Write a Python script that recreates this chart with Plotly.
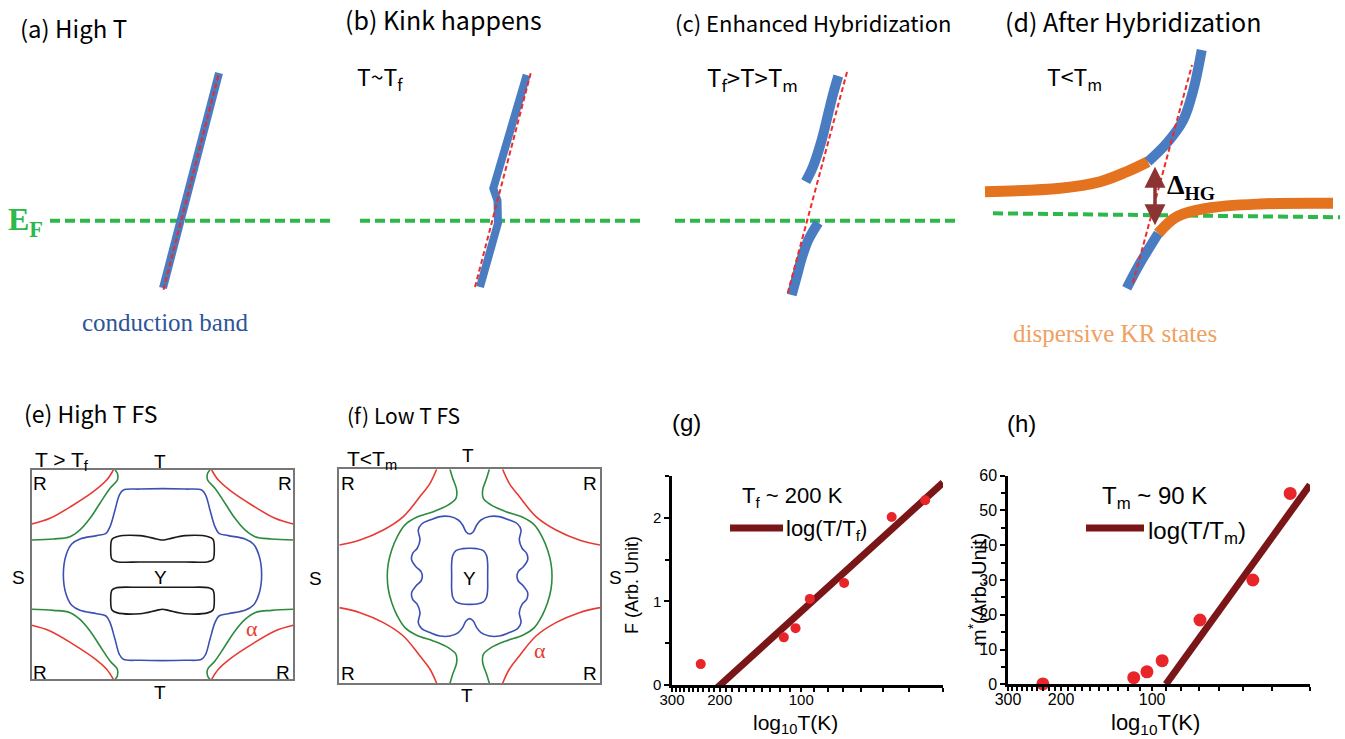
import plotly.graph_objects as go

W, H = 1345, 739

# ---------------- (a)-(d): schematic band dispersions, k (momentum) vs E (energy, E_F = 0)
a_band_k = [-0.175, 0.385]
a_band_E = [-0.673, 1.477]
a_bare_k = [-0.17, 0.38]
a_bare_E = [-0.69, 1.46]
a_ef_k = [-1.305, 1.525]
a_ef_E = [0.0, 0.0]

b_band_k = [-0.12, 0.06, 0.055, 0.013, 0.347]
b_band_E = [-0.663, -0.023, 0.20, 0.324, 1.457]
b_bare_k = [-0.17, 0.39]
b_bare_E = [-0.663, 1.487]
b_ef_k = [-1.32, 1.51]
b_ef_E = [0.0, 0.0]

c_upper_k = [-0.013, 0.06, 0.147, 0.213, 0.263, 0.313]
c_upper_E = [0.39, 0.54, 0.807, 1.074, 1.274, 1.447]
c_lower_k = [-0.153, -0.103, -0.053, 0.013, 0.113]
c_lower_E = [-0.743, -0.56, -0.376, -0.193, -0.02]
c_bare_k = [-0.193, 0.4]
c_bare_E = [-0.723, 1.487]
c_ef_k = [-1.32, 1.53]
c_ef_E = [0.0, 0.0]

d_upper_kr_k = [-1.66, -0.91, -0.51, -0.243, -0.03]
d_upper_kr_E = [0.233, 0.267, 0.333, 0.433, 0.533]
d_upper_c_k = [-0.03, 0.157, 0.323, 0.423, 0.507]
d_upper_c_E = [0.533, 0.717, 0.95, 1.25, 1.65]
d_lower_c_k = [-0.243, -0.11, 0.073]
d_lower_c_E = [-0.733, -0.483, -0.183]
d_lower_kr_k = [0.073, 0.257, 0.557, 1.09, 1.82]
d_lower_kr_E = [-0.183, -0.017, 0.067, 0.11, 0.117]
d_bare_k = [-0.18, 0.41]
d_bare_E = [-0.68, 1.5]
d_ef_k = [-1.58, 1.89]
d_ef_E = [0.017, -0.023]
d_gap_k = 0.04
d_gap_E = [-0.117, 0.483]

# ---------------- (e)/(f): Fermi-surface contours, one quadrant (kx<=0, ky>=0), BZ = [-1,1]^2
e_red_kx = [-1.0, -0.860, -0.682, -0.529, -0.427, -0.376]
e_red_ky = [0.484, 0.538, 0.666, 0.793, 0.904, 1.0]
e_green_kx = [-1.0, -0.834, -0.707, -0.631, -0.554, -0.478, -0.401, -0.345, -0.345, -0.363]
e_green_ky = [0.331, 0.341, 0.363, 0.427, 0.538, 0.682, 0.825, 0.904, 0.968, 1.0]
e_blue_kx = [0.0, -0.172, -0.299, -0.330, -0.363, -0.401, -0.432, -0.503, -0.631, -0.694, -0.737, -0.758]
e_blue_ky = [0.822, 0.818, 0.809, 0.761, 0.618, 0.459, 0.395, 0.373, 0.341, 0.293, 0.188, 0.0]
e_black_kx = [0.0, -0.045, -0.172, -0.350, -0.386, -0.396, -0.386, -0.350, -0.172, 0.0]
e_black_ky = [0.331, 0.341, 0.373, 0.363, 0.338, 0.242, 0.146, 0.124, 0.121, 0.121]

f_red_kx = [-1.0, -0.841, -0.662, -0.509, -0.381, -0.304, -0.253]
f_red_ky = [0.293, 0.340, 0.433, 0.558, 0.745, 0.869, 1.0]
f_green_kx = [-0.151, -0.130, -0.100, -0.105, -0.164, -0.279, -0.407, -0.496, -0.555, -0.598, -0.624, -0.632]
f_green_ky = [1.0, 0.916, 0.807, 0.729, 0.667, 0.604, 0.551, 0.480, 0.371, 0.246, 0.121, 0.0]
f_blue_out_kx = [0.0, -0.028, -0.054, -0.087, -0.151, -0.228, -0.304, -0.368, -0.394, -0.381,
                 -0.402, -0.437, -0.445, -0.412, -0.373, -0.363]
f_blue_out_ky = [0.396, 0.417, 0.480, 0.526, 0.558, 0.558, 0.526, 0.489, 0.433, 0.340,
                 0.262, 0.215, 0.153, 0.090, 0.044, 0.0]
f_blue_in_kx = [0.0, -0.054, -0.105, -0.130, -0.138, -0.138]
f_blue_in_ky = [0.262, 0.259, 0.240, 0.193, 0.121, 0.0]

# ---------------- (g)/(h): measured quantities vs temperature
g_T = [235, 116, 105, 93, 69.5, 46.4, 34.9]
g_F = [0.25, 0.57, 0.68, 1.03, 1.22, 2.01, 2.21]
g_fit_T = [204, 30]
g_fit_F = [-0.03, 2.42]
h_T = [230, 115, 104, 92.6, 69.4, 46.4, 34.9]
h_m = [0.1, 1.9, 3.6, 6.8, 18.5, 30.0, 54.9]
h_fit_T = [90, 30]
h_fit_m = [0.0, 57.4]
x_tickvals = [300, 200, 100]
x_ticktext = ["300", "200", "100"]
x_minor_vals = [30, 40, 50, 60, 70, 80, 90, 110, 120, 130, 140, 150, 160, 170, 180, 190,
                210, 220, 230, 240, 250, 260, 270, 280, 290]

# ---------------- styles
BLUE = "#4a7cc2"
ORANGE = "#e4731f"
RED_D = "#ee2a2a"
GREEN_EF = "#2db84a"
FS_RED, FS_GREEN, FS_BLUE, FS_BLACK = "#e83a32", "#2e8b3e", "#3c50b4", "#1a1a1a"
DOT = "#e8262a"
FIT = "#7a1518"
KO = "Noto Sans CJK KR, Noto Sans, sans-serif"
AR = "Liberation Sans, Arial, sans-serif"
SERIF = "Liberation Serif, Times New Roman, serif"

fig = go.Figure()
layout_axes = {}


def aname(i, ax):
    return ax + ("" if i == 1 else str(i))


def dom_x(l, r):
    return [l / W, r / W]


def dom_y(t, b):
    return [1 - b / H, 1 - t / H]


def schematic_axes(i, origin, xpx, ypx):
    ox, oy = origin
    layout_axes[aname(i, "xaxis")] = dict(domain=dom_x(*xpx), range=[(xpx[0] - ox) / 100, (xpx[1] - ox) / 100],
                                          visible=False, anchor=aname(i, "y"), automargin=False)
    layout_axes[aname(i, "yaxis")] = dict(domain=dom_y(*ypx), range=[(oy - ypx[1]) / 100, (oy - ypx[0]) / 100],
                                          visible=False, anchor=aname(i, "x"), automargin=False)


def line(i, x, y, color, width, dash="solid", shape="linear"):
    fig.add_trace(go.Scatter(x=x, y=y, mode="lines", xaxis=aname(i, "x"), yaxis=aname(i, "y"),
                             line=dict(color=color, width=width, dash=dash, shape=shape, smoothing=1.0),
                             hoverinfo="skip", showlegend=False))


EF_DASH = "10px,5px"
RD_DASH = "5px,3px"

# (a)
schematic_axes(1, (180.5, 220.7), (30, 345), (40, 300))
line(1, a_ef_k, a_ef_E, GREEN_EF, 4, EF_DASH)
line(1, a_band_k, a_band_E, BLUE, 8)
line(1, a_bare_k, a_bare_E, RED_D, 2, RD_DASH)
# (b)
schematic_axes(2, (492, 220.7), (345, 660), (40, 300))
line(2, b_ef_k, b_ef_E, GREEN_EF, 4, EF_DASH)
line(2, b_band_k, b_band_E, BLUE, 8)
line(2, b_bare_k, b_bare_E, RED_D, 2, RD_DASH)
# (c)
schematic_axes(3, (807, 220.7), (660, 975), (40, 300))
line(3, c_ef_k, c_ef_E, GREEN_EF, 4, EF_DASH)
line(3, c_upper_k, c_upper_E, BLUE, 10, shape="spline")
line(3, c_lower_k, c_lower_E, BLUE, 10, shape="spline")
line(3, c_bare_k, c_bare_E, RED_D, 2, RD_DASH)
# (d)
schematic_axes(4, (1151, 215), (975, 1345), (40, 300))
line(4, d_ef_k, d_ef_E, GREEN_EF, 4, EF_DASH)
line(4, d_upper_kr_k, d_upper_kr_E, ORANGE, 11, shape="spline")
line(4, d_upper_c_k, d_upper_c_E, BLUE, 10, shape="spline")
line(4, d_lower_c_k, d_lower_c_E, BLUE, 10, shape="spline")
line(4, d_lower_kr_k, d_lower_kr_E, ORANGE, 11, shape="spline")
line(4, d_bare_k, d_bare_E, RED_D, 2, RD_DASH)


# (e), (f) Fermi surfaces
def fs_axes(i, xpx, ypx):
    common = dict(showline=True, mirror=True, linecolor="#777777", linewidth=2, showgrid=False,
                  zeroline=False, showticklabels=False, ticks="", range=[-1, 1], automargin=False)
    layout_axes[aname(i, "xaxis")] = dict(domain=dom_x(*xpx), anchor=aname(i, "y"), **common)
    layout_axes[aname(i, "yaxis")] = dict(domain=dom_y(*ypx), anchor=aname(i, "x"), **common)


def closed(kx, ky):
    xs = list(kx) + [a for a in reversed(kx)][1:] + [-a for a in kx][1:] + [-a for a in reversed(kx)][1:]
    ys = list(ky) + [-b for b in reversed(ky)][1:] + [-b for b in ky][1:] + [b for b in reversed(ky)][1:]
    return xs, ys


def four(kx, ky):
    return [(list(kx), list(ky)), ([-a for a in kx], list(ky)),
            (list(kx), [-b for b in ky]), ([-a for a in kx], [-b for b in ky])]


def left_right(kx, ky):
    xl = list(kx) + [a for a in reversed(kx)][1:]
    yl = list(ky) + [-b for b in reversed(ky)][1:]
    return [(xl, yl), ([-a for a in xl], yl)]


def pocket_pair(kx, ky):
    xu = list(kx) + [-a for a in reversed(kx)][1:]
    yu = list(ky) + [b for b in reversed(ky)][1:]
    return [(xu, yu), (xu, [-b for b in yu])]


fs_axes(5, (31.7, 293.3), (470, 679.3))
for xs, ys in four(e_red_kx, e_red_ky):
    line(5, xs, ys, FS_RED, 1.6, shape="spline")
for xs, ys in four(e_green_kx, e_green_ky):
    line(5, xs, ys, FS_GREEN, 1.6, shape="spline")
xs, ys = closed(e_blue_kx, e_blue_ky)
line(5, xs, ys, FS_BLUE, 1.6, shape="spline")
for xs, ys in pocket_pair(e_black_kx, e_black_ky):
    line(5, xs, ys, FS_BLACK, 1.6, shape="spline")

fs_axes(6, (339.3, 600), (469.3, 683.3))
for xs, ys in four(f_red_kx, f_red_ky):
    line(6, xs, ys, FS_RED, 1.6, shape="spline")
for xs, ys in left_right(f_green_kx, f_green_ky):
    line(6, xs, ys, FS_GREEN, 1.6, shape="spline")
xs, ys = closed(f_blue_out_kx, f_blue_out_ky)
line(6, xs, ys, FS_BLUE, 1.6, shape="spline")
xs, ys = closed(f_blue_in_kx, f_blue_in_ky)
line(6, xs, ys, FS_BLUE, 1.6, shape="spline")


# (g), (h) data panels
def data_axes(i, xpx, ypx, yrange, ytickvals, yminor, fsize):
    layout_axes[aname(i, "xaxis")] = dict(
        domain=dom_x(*xpx), anchor=aname(i, "y"), type="log", range=[2.4771, 1.4771],
        tickmode="array", tickvals=x_tickvals, ticktext=x_ticktext, ticks="outside", ticklen=4,
        tickwidth=2, tickcolor="black", showline=True, linecolor="black", linewidth=2.5,
        showgrid=False, zeroline=False, tickfont=dict(family=AR, size=fsize, color="black"),
        automargin=False, ticklabelstandoff=-5,
        minor=dict(tickmode="array", tickvals=x_minor_vals, ticks="outside", ticklen=4,
                   tickwidth=2, tickcolor="black", showgrid=False))
    layout_axes[aname(i, "yaxis")] = dict(
        domain=dom_y(*ypx), anchor=aname(i, "x"), range=yrange, tickmode="array",
        tickvals=ytickvals, ticks="outside", ticklen=5, tickwidth=2, tickcolor="black",
        showline=True, linecolor="black", linewidth=2.5, showgrid=False, zeroline=False,
        tickfont=dict(family=AR, size=fsize, color="black"), automargin=False,
        minor=dict(dtick=yminor, ticks="outside", ticklen=4, tickwidth=2, tickcolor="black", showgrid=False))


data_axes(7, (672, 943), (476, 685), [0, 2.5], [0, 1, 2], 0.5, 15)
fig.add_trace(go.Scatter(x=g_fit_T, y=g_fit_F, mode="lines", xaxis="x7", yaxis="y7",
                         line=dict(color=FIT, width=7), showlegend=False, hoverinfo="skip"))
fig.add_trace(go.Scatter(x=g_T, y=g_F, mode="markers", xaxis="x7", yaxis="y7", cliponaxis=False,
                         marker=dict(color=DOT, size=10), showlegend=False, hoverinfo="skip"))

data_axes(8, (1008, 1310), (475.7, 684.3), [0, 60], [0, 10, 20, 30, 40, 50, 60], 5, 16)
fig.add_trace(go.Scatter(x=h_fit_T, y=h_fit_m, mode="lines", xaxis="x8", yaxis="y8",
                         line=dict(color=FIT, width=7), showlegend=False, hoverinfo="skip"))
fig.add_trace(go.Scatter(x=h_T, y=h_m, mode="markers", xaxis="x8", yaxis="y8", cliponaxis=False,
                         marker=dict(color=DOT, size=13), showlegend=False, hoverinfo="skip"))

# ---------------- text
anns = []


def txt(text, x, y, size, family=AR, color="black", xanchor="left", angle=0):
    anns.append(dict(text=text, x=x / W, y=1 - y / H, xref="paper", yref="paper", showarrow=False,
                     xanchor=xanchor, yanchor="middle", textangle=angle,
                     font=dict(family=family, size=size, color=color)))


txt("(a) High T", 18, 27, 24, KO)
txt("(b) Kink happens", 343, 19, 25, KO)
txt("(c) Enhanced Hybridization", 673, 22, 22, KO)
txt("(d) After Hybridization", 1003, 21, 25, KO)
txt("T~T<sub>f</sub>", 355, 78, 23, KO)
txt("T<sub>f</sub>>T>T<sub>m</sub>", 705, 78, 24, KO)
txt("T<T<sub>m</sub>", 1045, 78, 23, KO)
txt("<b>E</b><sub><b>F</b></sub>", 6, 222, 32, SERIF, GREEN_EF)
txt("conduction band", 165, 322, 25, SERIF, "#2d5597", "center")
txt("dispersive KR states", 1115, 333, 25, SERIF, "#f0a060", "center")
txt("<b>Δ</b><sub><b>HG</b></sub>", 1165, 186, 28, SERIF)

# (e)
txt("(e) High T FS", 22, 413, 23, KO)
txt("T > T<sub>f</sub>", 33, 461, 21)
for (sx, sy, s) in [(160, 461, "T"), (160, 692, "T"), (40, 483, "R"), (285, 483, "R"), (40, 672, "R"),
                    (283, 672, "R"), (18, 577, "S"), (160, 577, "Y")]:
    txt(s, sx, sy, 19, AR, "black", "center")
txt("α", 252, 628, 22, SERIF, FS_RED, "center")
# (f)
txt("(f) Low T FS", 345, 415, 21, KO)
txt("T<T<sub>m</sub>", 345, 460, 21)
for (sx, sy, s) in [(468, 455, "T"), (467, 695, "T"), (348, 483, "R"), (590, 483, "R"), (348, 673, "R"),
                    (590, 673, "R"), (315, 578, "S"), (615, 577, "S"), (469, 578, "Y")]:
    txt(s, sx, sy, 19, AR, "black", "center")
txt("α", 540, 650, 22, SERIF, FS_RED, "center")
# (g)
txt("(g)", 670, 422, 24)
txt("T<sub>f</sub> ~ 200 K", 740, 497, 22)
txt("log(T/T<sub>f</sub>)", 784, 530, 22)
txt("log<sub>10</sub>T(K)", 795, 724, 21, AR, "black", "center")
txt("F (Arb. Unit)", 632, 585, 18, AR, "black", "center", -90)
# (h)
txt("(h)", 1005, 423, 24)
txt("T<sub>m</sub> ~ 90 K", 1100, 497, 24)
txt("log(T/T<sub>m</sub>)", 1146, 532, 24)
txt("log<sub>10</sub>T(K)", 1155, 724, 22, AR, "black", "center")
txt("m<sup>*</sup>(Arb. Unit)", 977, 590, 20, AR, "black", "center", -90)

# gap arrow in (d)
anns.append(dict(x=d_gap_k, y=d_gap_E[1], ax=d_gap_k, ay=d_gap_E[0], xref="x4", yref="y4",
                 axref="x4", ayref="y4", text="", showarrow=True, arrowhead=2, startarrowhead=2,
                 arrowside="end+start", arrowsize=1.2, arrowwidth=3.5, arrowcolor="#8c3434"))

shapes = [
    dict(type="line", xref="paper", yref="paper", x0=730 / W, x1=783 / W, y0=1 - 528 / H, y1=1 - 528 / H,
         line=dict(color=FIT, width=7)),
    dict(type="line", xref="paper", yref="paper", x0=1086 / W, x1=1144 / W, y0=1 - 528 / H, y1=1 - 528 / H,
         line=dict(color=FIT, width=7)),
]

fig.update_layout(width=W, height=H, autosize=False,
                  margin=dict(l=0, r=0, t=0, b=0, pad=0, autoexpand=False),
                  paper_bgcolor="white", plot_bgcolor="rgba(0,0,0,0)", showlegend=False,
                  annotations=anns, shapes=shapes, **layout_axes)

fig.write_html("out.html", config={"displayModeBar": False},
               post_script="document.body.style.margin='0';document.body.style.overflow='hidden';")
